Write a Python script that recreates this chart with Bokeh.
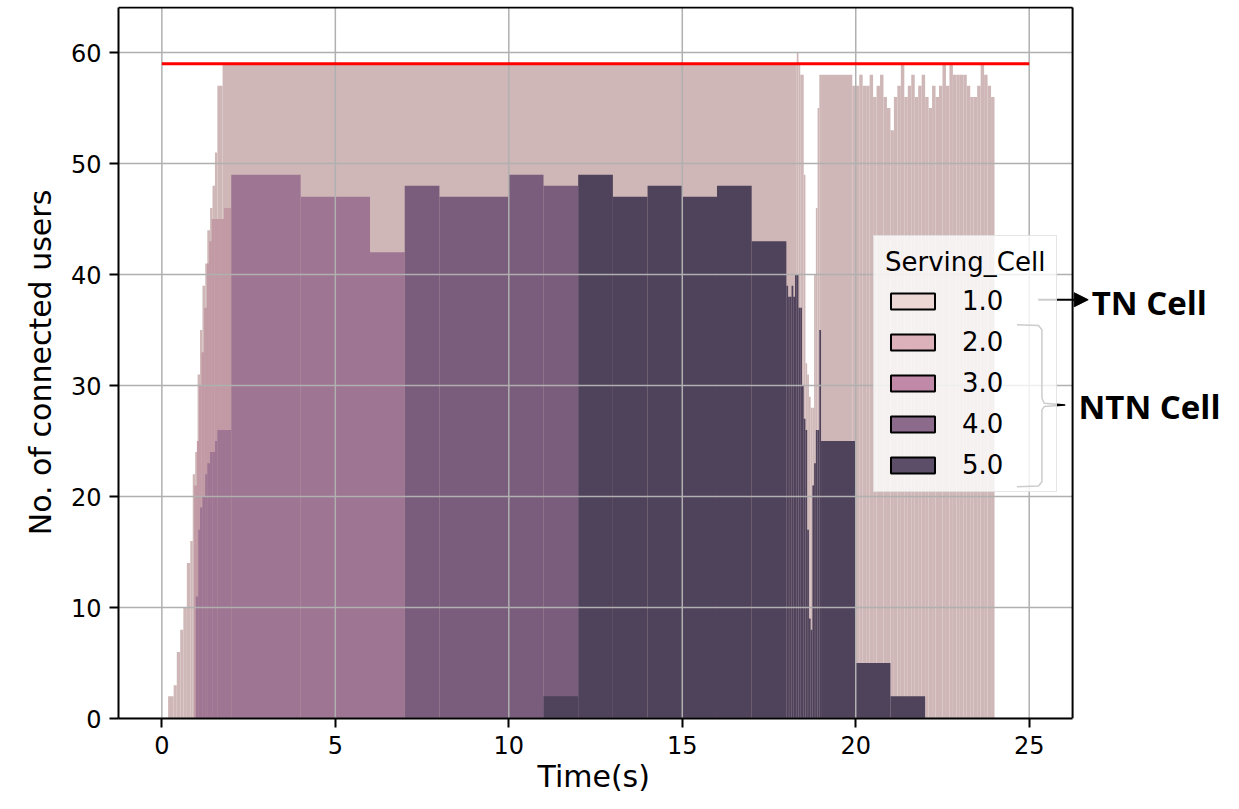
from bokeh.plotting import figure
from bokeh.models import (Range1d, FixedTicker, Legend, LegendItem, Arrow,
                          NormalHead, Title)
from bokeh.core.properties import value
from bokeh.embed import file_html
from bokeh.resources import INLINE

# ---------------- data ----------------
cell_labels = ["1.0", "2.0", "3.0", "4.0", "5.0"]

# Serving cell 1.0 (TN cell): histogram bin edges (s) and counts
cell1_edges = ([0.18, 0.34, 0.43, 0.53, 0.62, 0.72, 0.82, 0.89, 0.96, 1.03, 1.10,
                1.17, 1.25, 1.31, 1.39, 1.46, 1.53, 1.60, 1.75, 18.30,
                18.35, 18.40, 18.45, 18.50, 18.55, 18.60, 18.65, 18.70, 18.75,
                18.80, 18.85, 18.90, 18.95, 19.00, 19.90, 20.0]
               + [round(20.0 + 0.1 * k, 1) for k in range(1, 41)])
cell1_counts = ([2, 3, 6, 8, 10, 14, 16, 22, 24, 31, 35, 39, 41, 44, 46, 48, 51, 57,
                 59,
                 60, 59, 58, 58, 49, 32, 31, 29, 28, 28, 40, 46, 55, 58,
                 58, 57]
                + [57, 58, 57, 57, 58, 56, 57, 58, 56, 55,
                   53, 56, 57, 59, 56, 57, 58, 56, 57, 58,
                   56, 55, 57, 56, 57, 59, 57, 59, 58, 58,
                   58, 58, 57, 56, 56, 57, 59, 58, 57, 56])

# Serving cell 2.0
cell2_edges = [0.93, 1.01, 1.07, 1.14, 1.22, 1.30, 1.36, 1.44, 1.51, 1.65, 1.79, 2.0]
cell2_counts = [21, 25, 30, 33, 37, 41, 43, 45, 45, 45, 46]

# Serving cell 3.0
cell3_edges = [0.98, 1.05, 1.10, 1.17, 1.25, 1.31, 1.39, 1.46, 1.53, 1.60, 2.0, 4.0, 6.0, 7.0]
cell3_counts = [11, 17, 19, 20, 22, 23, 24, 24, 25, 26, 49, 47, 42]

# Serving cell 4.0
cell4_edges = [7.0, 8.0, 10.0, 11.0, 12.0]
cell4_counts = [48, 47, 49, 48]

# Serving cell 5.0
cell5_edges = ([11.0, 12.0, 13.0, 14.0, 15.0, 16.0, 17.0, 18.0]
               + [round(18.0 + 0.05 * k, 2) for k in range(1, 21)]
               + [20.0, 21.0, 22.0])
cell5_counts = ([2, 49, 47, 48, 47, 48, 43]
                + [39, 38, 38, 39, 38, 40, 40, 37, 37, 30,
                   27, 26, 17, 9, 8, 21, 23, 26, 26, 35]
                + [25, 5, 2])

# maximum number of users (red reference line)
max_users = 59
max_line_x = [0, 25]

x_ticks = [0, 5, 10, 15, 20, 25]
y_ticks = [0, 10, 20, 30, 40, 50, 60]

# annotation texts and their anchor points (data units)
note_text = ["TN Cell", "NTN Cell"]
note_x = [26.80, 26.42]
note_y = [37.45, 28.07]

# ---------------- layout / styles ----------------
XMIN, XMAX = -1.25, 26.25          # visible axes box
YMIN, YMAX = 0.0, 64.05
X_FRAME_MAX = 30.60                # drawing area extends right for the notes
Y_FRAME_MAX = 64.15

bar_fill = ["#cfb7b7", "#c29aa5", "#9e7592", "#7a5d7d", "#4f425b"]
bar_hatch = ["#b3979b", "#ad8592", "#8a6380", "#6a4f6d", "#43384f"]
legend_fill = ["#ecd7d4", "#ddb1ba", "#c089a8", "#8c6a8c", "#5c4e68"]
FONT = "DejaVu Sans"

p = figure(width=1223, height=793, output_backend="svg", toolbar_location=None,
           x_range=Range1d(XMIN, X_FRAME_MAX), y_range=Range1d(YMIN, Y_FRAME_MAX),
           min_border_left=118, min_border_right=0, min_border_top=6,
           min_border_bottom=0)
p.background_fill_color = "white"
p.outline_line_color = None
p.grid.visible = False

series = [(cell1_edges, cell1_counts), (cell2_edges, cell2_counts),
          (cell3_edges, cell3_counts), (cell4_edges, cell4_counts),
          (cell5_edges, cell5_counts)]
for i, (edges, counts) in enumerate(series):
    p.quad(left=edges[:-1], right=edges[1:], top=counts, bottom=0,
           fill_color=bar_fill[i], line_color=None,
           hatch_pattern="v_line", hatch_scale=3, hatch_weight=1,
           hatch_color=bar_hatch[i], hatch_alpha=0.6)

# grid lines (over the bars, as in the reference)
GRID = "#b0b0b0"
p.segment(x0=XMIN, x1=XMAX, y0=y_ticks, y1=y_ticks, line_color=GRID, line_width=1.5)
p.segment(x0=x_ticks, x1=x_ticks, y0=YMIN, y1=YMAX, line_color=GRID, line_width=1.5)

p.line(x=max_line_x, y=[max_users, max_users], line_color="red", line_width=3)

# top and right spines
p.segment(x0=[XMIN, XMAX], x1=[XMAX, XMAX], y0=[YMAX, YMIN], y1=[YMAX, YMAX],
          line_color="black", line_width=2)

# axes
for ax in (p.xaxis, p.yaxis):
    ax.axis_line_color = "black"
    ax.axis_line_width = 2
    ax.major_tick_line_color = "black"
    ax.major_tick_line_width = 2
    ax.major_tick_out = 9
    ax.major_tick_in = 0
    ax.minor_tick_line_color = None
    ax.major_label_text_font = FONT
    ax.major_label_text_font_size = "24px"
    ax.major_label_text_color = "black"
    ax.axis_label_text_font = FONT
    ax.axis_label_text_font_size = "30px"
    ax.axis_label_text_font_style = "normal"
    ax.axis_label_text_color = "black"

p.xaxis.bounds = (XMIN, XMAX)
p.yaxis.bounds = (YMIN, YMAX)
p.xaxis.ticker = FixedTicker(ticks=x_ticks)
p.yaxis.ticker = FixedTicker(ticks=y_ticks)
p.yaxis.axis_label = "No. of connected users"
p.xaxis.major_label_standoff = 8
p.yaxis.major_label_standoff = 8
p.yaxis.axis_label_standoff = 10

xlabel = Title(text="Time(s)", align="left", offset=419, standoff=0,
               text_font=FONT, text_font_size="30px", text_font_style="normal",
               text_color="black")
p.add_layout(xlabel, "below")

# legend (patches drawn by hidden renderers built from the first bin of each series)
items = []
for i, lab in enumerate(cell_labels):
    edges, counts = series[i]
    r = p.quad(left=edges[:1], right=edges[1:2], top=counts[:1], bottom=0,
               fill_color=legend_fill[i], line_color="black", line_width=2,
               visible=False)
    items.append(LegendItem(label=lab, renderers=[r]))
legend = Legend(items=items, title="Serving_Cell", location=(755, 226))
legend.inactive_fill_alpha = 0
legend.title_text_font = FONT
legend.title_text_font_size = "26px"
legend.title_text_font_style = "normal"
legend.title_text_color = "black"
legend.title_standoff = 9
legend.label_text_font = FONT
legend.label_text_font_size = "26px"
legend.label_text_color = "black"
legend.glyph_width = 55
legend.glyph_height = 20
legend.label_height = 30
legend.label_standoff = 22
legend.spacing = 11
legend.padding = 11
legend.border_line_color = "#cccccc"
legend.border_line_width = 1
legend.background_fill_alpha = 0.8
legend.click_policy = "none"
p.add_layout(legend, "center")

# notes to the right of the axes
p.add_layout(Arrow(end=NormalHead(size=14, fill_color="black", line_color="black"),
                   x_start=25.26, y_start=37.73, x_end=26.70, y_end=37.73,
                   line_color="black", line_width=2))
p.text(x=note_x, y=note_y, text=note_text, text_font=value("Open Sans"),
       text_font_style="bold", text_font_size="33px", text_baseline="middle",
       text_align="left", text_color="black")
brace_x = [24.646, 25.268, 25.366, 25.366, 25.432, 26.037, 25.432, 25.366, 25.366, 25.268, 24.646]
brace_y = [35.47, 35.41, 35.02, 28.85, 28.40, 28.25, 28.10, 27.80, 21.33, 20.94, 20.88]
p.line(x=brace_x, y=brace_y, line_color="black", line_width=1.5)

open("out.html", "w").write(file_html(p, INLINE))
